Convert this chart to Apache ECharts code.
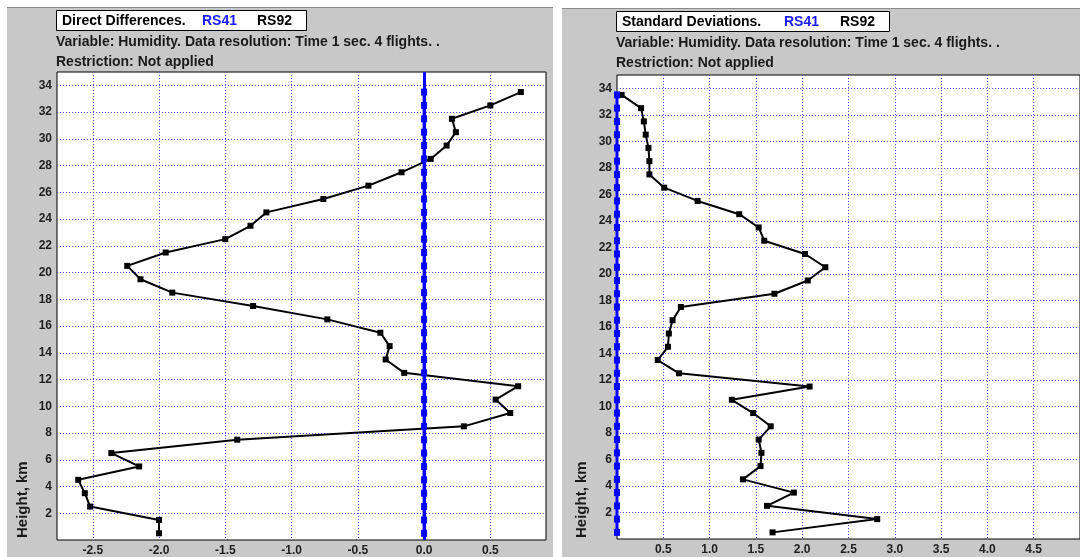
<!DOCTYPE html>
<html>
<head>
<meta charset="utf-8">
<script src="https://cdn.jsdelivr.net/npm/echarts@6/dist/echarts.min.js"></script>
<style>
  html, body { margin: 0; padding: 0; background: #ffffff; }
  #chart { width: 1080px; height: 557px; }
</style>
</head>
<body>
<div id="chart"></div>
<script>
// Layer mid-heights, km (top to bottom)
const heights = [33.5, 32.5, 31.5, 30.5, 29.5, 28.5, 27.5, 26.5, 25.5, 24.5, 23.5, 22.5,
                 21.5, 20.5, 19.5, 18.5, 17.5, 16.5, 15.5, 14.5, 13.5, 12.5, 11.5, 10.5,
                 9.5, 8.5, 7.5, 6.5, 5.5, 4.5, 3.5, 2.5, 1.5, 0.5];

// Direct differences RS92 - RS41, humidity
const diffRS92 = [0.73, 0.50, 0.21, 0.24, 0.17, 0.05, -0.17, -0.42, -0.76, -1.19, -1.31, -1.50,
                  -1.95, -2.24, -2.14, -1.90, -1.29, -0.73, -0.33, -0.26, -0.29, -0.15, 0.71, 0.54,
                  0.65, 0.30, -1.41, -2.36, -2.15, -2.61, -2.56, -2.52, -2.00, -2.00];
// Reference sonde (RS41) differences
const diffRS41 = [0, 0, 0, 0, 0, 0, 0, 0, 0, 0, 0, 0, 0, 0, 0, 0, 0,
                  0, 0, 0, 0, 0, 0, 0, 0, 0, 0, 0, 0, 0, 0, 0, 0, 0];

// Standard deviations of humidity
const sdRS92 = [0.05, 0.26, 0.29, 0.31, 0.34, 0.35, 0.35, 0.51, 0.87, 1.32, 1.53, 1.59,
                2.03, 2.25, 2.06, 1.70, 0.69, 0.60, 0.56, 0.55, 0.44, 0.67, 2.08, 1.24,
                1.47, 1.66, 1.53, 1.56, 1.55, 1.36, 1.91, 1.62, 2.81, 1.68];
const sdRS41 = [0, 0, 0, 0, 0, 0, 0, 0, 0, 0, 0, 0, 0, 0, 0, 0, 0,
                0, 0, 0, 0, 0, 0, 0, 0, 0, 0, 0, 0, 0, 0, 0, 0, 0];

// Tick labels
const diffTicks = [-2.5, -2.0, -1.5, -1.0, -0.5, 0.0, 0.5];
const sdTicks = [0.5, 1.0, 1.5, 2.0, 2.5, 3.0, 3.5, 4.0, 4.5];
const heightTicks = [2, 4, 6, 8, 10, 12, 14, 16, 18, 20, 22, 24, 26, 28, 30, 32, 34];

const FONT = '"Liberation Sans", Arial, sans-serif';
const GRID_LINE = { show: true, lineStyle: { color: '#4a4aff', width: 1, type: [1, 2] } };
const TICK_LABEL = { color: '#1e1e1e', fontFamily: FONT, fontWeight: 'bold', fontSize: 12 };

function pairs(xs) { return xs.map((v, i) => [v, heights[i]]); }

function yAxisFor(gridIndex) {
  return {
    gridIndex, type: 'value', min: 0, max: 35,
    axisLine: { show: false },
    axisTick: { show: false, customValues: heightTicks },
    axisLabel: Object.assign({ customValues: heightTicks, margin: 5 }, TICK_LABEL),
    splitLine: GRID_LINE
  };
}

function textEl(x, y, str, color, size, extra) {
  return Object.assign({
    type: 'text', x, y, z: 20,
    style: { text: str, fill: color || '#1a1a1a', font: 'bold ' + (size || 14) + 'px ' + FONT,
             textVerticalAlign: 'middle' }
  }, extra || {});
}

function panelHeader(x0, y0, boxW, head, rsX1, rsX2) {
  return [
    { type: 'rect', z: 5, shape: { x: x0 + 0.5, y: y0 + 0.5, width: boxW, height: 20 },
      style: { fill: '#ffffff', stroke: '#000000', lineWidth: 1 } },
    textEl(x0 + 6, y0 + 11, head, '#000000'),
    textEl(rsX1, y0 + 11, 'RS41', '#1a1aff'),
    textEl(rsX2, y0 + 11, 'RS92', '#000000'),
    textEl(x0, y0 + 32, 'Variable: Humidity. Data resolution: Time 1 sec. 4 flights. .'),
    textEl(x0, y0 + 52, 'Restriction: Not applied')
  ];
}

const chart = echarts.init(document.getElementById('chart'), null, { renderer: 'canvas' });

chart.setOption({
  animation: false,
  backgroundColor: '#ffffff',
  graphic: [
    // panel backgrounds
    { type: 'rect', z: -10, shape: { x: 7, y: 7, width: 546, height: 560 }, style: { fill: '#c8c8c8' } },
    { type: 'rect', z: -10, shape: { x: 562, y: 8, width: 530, height: 560 }, style: { fill: '#c8c8c8' } },
    { type: 'line', z: -9, shape: { x1: 7, y1: 7.5, x2: 553, y2: 7.5 }, style: { stroke: '#8a8a8a', lineWidth: 1 } },
    { type: 'line', z: -9, shape: { x1: 562, y1: 8.5, x2: 1080, y2: 8.5 }, style: { stroke: '#8a8a8a', lineWidth: 1 } },
    ...panelHeader(56, 10, 250, 'Direct Differences.', 202, 257),
    ...panelHeader(616, 11, 273, 'Standard Deviations.', 784, 840),
    textEl(23, 538, 'Height, km', '#1a1a1a', 15, { rotation: Math.PI / 2, style: {
      text: 'Height, km', fill: '#1a1a1a', font: 'bold 15px ' + FONT, textVerticalAlign: 'middle' } }),
    textEl(582, 538, 'Height, km', '#1a1a1a', 15, { rotation: Math.PI / 2, style: {
      text: 'Height, km', fill: '#1a1a1a', font: 'bold 15px ' + FONT, textVerticalAlign: 'middle' } })
  ],
  grid: [
    { left: 57, top: 72, width: 489, height: 469, show: true, backgroundColor: '#ffffff',
      borderColor: '#000000', borderWidth: 1 },
    { left: 617, top: 75, width: 467, height: 464, show: true, backgroundColor: '#ffffff',
      borderColor: '#000000', borderWidth: 1 }
  ],
  xAxis: [
    { gridIndex: 0, type: 'value', min: -2.77, max: 0.92,
      axisLine: { show: false },
      axisTick: { show: false, customValues: diffTicks },
      axisLabel: Object.assign({ customValues: diffTicks, margin: 5,
        formatter: v => v.toFixed(1) }, TICK_LABEL),
      splitLine: GRID_LINE },
    { gridIndex: 1, type: 'value', min: 0, max: 5,
      axisLine: { show: false },
      axisTick: { show: false, customValues: sdTicks },
      axisLabel: Object.assign({ customValues: sdTicks, margin: 5,
        formatter: v => v.toFixed(1) }, TICK_LABEL),
      splitLine: GRID_LINE }
  ],
  yAxis: [yAxisFor(0), yAxisFor(1)],
  series: [
    { name: 'RS92', type: 'line', xAxisIndex: 0, yAxisIndex: 0, data: pairs(diffRS92),
      symbol: 'rect', symbolSize: 6, z: 3,
      lineStyle: { color: '#000000', width: 2 }, itemStyle: { color: '#000000' } },
    { name: 'RS41', type: 'line', xAxisIndex: 0, yAxisIndex: 0, data: pairs(diffRS41),
      symbol: 'rect', symbolSize: [6, 7], z: 4, clip: false,
      lineStyle: { color: '#0000ff', width: 3 }, itemStyle: { color: '#0000ff' },
      markLine: { silent: true, symbol: 'none', label: { show: false },
        lineStyle: { color: '#0000ff', width: 3, type: 'solid' },
        data: [{ xAxis: 0 }] } },
    { name: 'RS92 sd', type: 'line', xAxisIndex: 1, yAxisIndex: 1, data: pairs(sdRS92),
      symbol: 'rect', symbolSize: 6, z: 3,
      lineStyle: { color: '#000000', width: 2 }, itemStyle: { color: '#000000' } },
    { name: 'RS41 sd', type: 'line', xAxisIndex: 1, yAxisIndex: 1, data: pairs(sdRS41),
      symbol: 'rect', symbolSize: [6, 7], z: 4, clip: false,
      lineStyle: { color: '#0000ff', width: 3 }, itemStyle: { color: '#0000ff' } }
  ]
});
</script>
</body>
</html>
